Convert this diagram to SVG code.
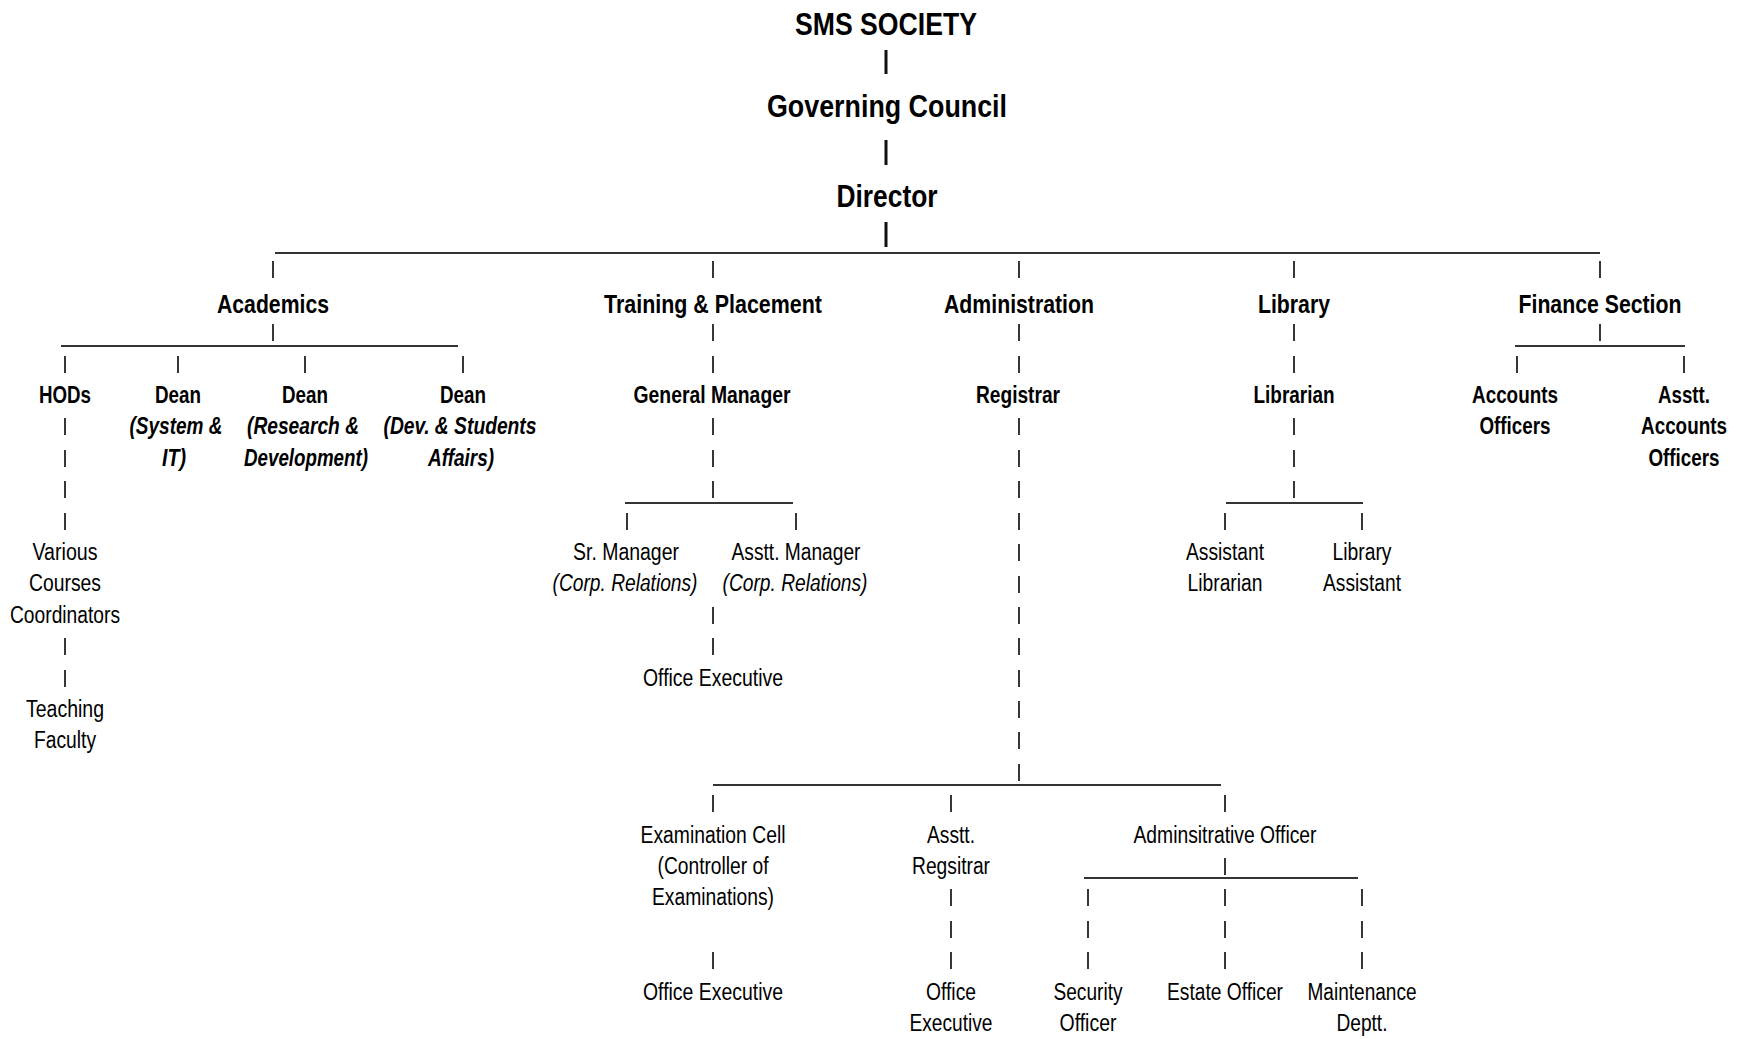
<svg xmlns="http://www.w3.org/2000/svg" width="1741" height="1039" viewBox="0 0 1741 1039">
<style>
text{font-family:"Liberation Sans Narrow","Arial Narrow","Liberation Sans",Arial,sans-serif;fill:#000;text-anchor:middle}
.t{font-size:32px;font-weight:bold}
.d{font-size:26px;font-weight:bold}
.b{font-size:23px;font-weight:bold}
.bi{font-size:23px;font-weight:bold;font-style:italic}
.r{font-size:23.5px}
.ri{font-size:23.5px;font-style:italic}
.p{stroke:#222;stroke-width:1.8;fill:none}
.pb{stroke:#111;stroke-width:3;fill:none}
.h{stroke:#333;stroke-width:1.8;fill:none}
</style>
<rect width="1741" height="1039" fill="#fff"/>
<g id="connectors">
<path class="pb" d="M886 50V74M886 140V165M886 222V247"/>
<path class="h" d="M275 253H1600"/>
<path class="p" d="M273 261V278M713 261V278M1019 261V278M1294 261V278M1600 261V278"/>
<path class="p" d="M273 324V341"/>
<path class="h" d="M61 346H458"/>
<path class="p" d="M65 356V373M178 356V373M305 356V373M463 356V373"/>
<path class="p" d="M65 418V435M65 450V467M65 481V498M65 513V530M65 638V655M65 670V687"/>
<path class="p" d="M713 324V341M713 356V373M713 418V435M713 450V467M713 481V498"/>
<path class="h" d="M625 503H793"/>
<path class="p" d="M627 513V530M796 513V530M713 607V624M713 638V655"/>
<path class="p" d="M1019 324V341M1019 356V373M1019 418V435M1019 450V467M1019 481V498M1019 513V530M1019 544V561M1019 576V593M1019 607V624M1019 638V655M1019 670V687M1019 701V718M1019 732V749M1019 764V781"/>
<path class="h" d="M713 785H1221"/>
<path class="p" d="M713 795V812M951 795V812M1225 795V812M713 952V969M951 889V906M951 921V938M951 952V969M1225 858V875"/>
<path class="h" d="M1084 878H1358"/>
<path class="p" d="M1088 889V906M1088 921V938M1088 952V969M1225 889V906M1225 921V938M1225 952V969M1362 889V906M1362 921V938M1362 952V969"/>
<path class="p" d="M1294 324V341M1294 356V373M1294 418V435M1294 450V467M1294 481V498"/>
<path class="h" d="M1226 503H1363"/>
<path class="p" d="M1225 513V530M1362 513V530"/>
<path class="p" d="M1600 324V341"/>
<path class="h" d="M1515 346H1685"/>
<path class="p" d="M1517 356V373M1684 356V373"/>
</g>
<g id="sms-society"><text class="t" x="886" y="35" textLength="182" lengthAdjust="spacingAndGlyphs">SMS SOCIETY</text></g>
<g id="governing-council"><text class="t" x="887" y="117" textLength="240" lengthAdjust="spacingAndGlyphs">Governing Council</text></g>
<g id="director"><text class="t" x="887" y="207" textLength="101" lengthAdjust="spacingAndGlyphs">Director</text></g>
<g id="academics"><text class="d" x="273" y="313" textLength="112" lengthAdjust="spacingAndGlyphs">Academics</text></g>
<g id="training-placement"><text class="d" x="713" y="313" textLength="218" lengthAdjust="spacingAndGlyphs">Training &amp; Placement</text></g>
<g id="administration"><text class="d" x="1019" y="313" textLength="150" lengthAdjust="spacingAndGlyphs">Administration</text></g>
<g id="library"><text class="d" x="1294" y="313" textLength="72" lengthAdjust="spacingAndGlyphs">Library</text></g>
<g id="finance-section"><text class="d" x="1600" y="313" textLength="163" lengthAdjust="spacingAndGlyphs">Finance Section</text></g>
<g id="hods"><text class="b" x="65" y="403" textLength="52" lengthAdjust="spacingAndGlyphs">HODs</text></g>
<g id="dean-system-it"><text class="b" x="178" y="403" textLength="46" lengthAdjust="spacingAndGlyphs">Dean</text><text class="bi" x="176" y="434.4" textLength="93" lengthAdjust="spacingAndGlyphs">(System &amp;</text><text class="bi" x="174" y="465.8" textLength="24" lengthAdjust="spacingAndGlyphs">IT)</text></g>
<g id="dean-research"><text class="b" x="305" y="403" textLength="46" lengthAdjust="spacingAndGlyphs">Dean</text><text class="bi" x="303" y="434.4" textLength="112" lengthAdjust="spacingAndGlyphs">(Research &amp;</text><text class="bi" x="306" y="465.8" textLength="124" lengthAdjust="spacingAndGlyphs">Development)</text></g>
<g id="dean-dev-students"><text class="b" x="463" y="403" textLength="46" lengthAdjust="spacingAndGlyphs">Dean</text><text class="bi" x="460" y="434.4" textLength="153" lengthAdjust="spacingAndGlyphs">(Dev. &amp; Students</text><text class="bi" x="461" y="465.8" textLength="66" lengthAdjust="spacingAndGlyphs">Affairs)</text></g>
<g id="courses-coordinators"><text class="r" x="65" y="560" textLength="65" lengthAdjust="spacingAndGlyphs">Various</text><text class="r" x="65" y="591.4" textLength="72" lengthAdjust="spacingAndGlyphs">Courses</text><text class="r" x="65" y="622.8" textLength="110" lengthAdjust="spacingAndGlyphs">Coordinators</text></g>
<g id="teaching-faculty"><text class="r" x="65" y="717" textLength="78" lengthAdjust="spacingAndGlyphs">Teaching</text><text class="r" x="65" y="748.4" textLength="62" lengthAdjust="spacingAndGlyphs">Faculty</text></g>
<g id="general-manager"><text class="b" x="712" y="403" textLength="157" lengthAdjust="spacingAndGlyphs">General Manager</text></g>
<g id="sr-manager"><text class="r" x="626" y="560" textLength="106" lengthAdjust="spacingAndGlyphs">Sr. Manager</text><text class="ri" x="625" y="591.4" textLength="145" lengthAdjust="spacingAndGlyphs">(Corp. Relations)</text></g>
<g id="asstt-manager"><text class="r" x="796" y="560" textLength="129" lengthAdjust="spacingAndGlyphs">Asstt. Manager</text><text class="ri" x="795" y="591.4" textLength="145" lengthAdjust="spacingAndGlyphs">(Corp. Relations)</text></g>
<g id="tp-office-executive"><text class="r" x="713" y="685.6" textLength="140" lengthAdjust="spacingAndGlyphs">Office Executive</text></g>
<g id="registrar"><text class="b" x="1018" y="403" textLength="84" lengthAdjust="spacingAndGlyphs">Registrar</text></g>
<g id="examination-cell"><text class="r" x="713" y="842.6" textLength="145" lengthAdjust="spacingAndGlyphs">Examination Cell</text><text class="r" x="713" y="874" textLength="111" lengthAdjust="spacingAndGlyphs">(Controller of</text><text class="r" x="713" y="905.4" textLength="122" lengthAdjust="spacingAndGlyphs">Examinations)</text></g>
<g id="exam-office-executive"><text class="r" x="713" y="999.6" textLength="140" lengthAdjust="spacingAndGlyphs">Office Executive</text></g>
<g id="asstt-registrar"><text class="r" x="951" y="842.6" textLength="48" lengthAdjust="spacingAndGlyphs">Asstt.</text><text class="r" x="951" y="874" textLength="78" lengthAdjust="spacingAndGlyphs">Regsitrar</text></g>
<g id="ar-office-executive"><text class="r" x="951" y="999.6" textLength="50" lengthAdjust="spacingAndGlyphs">Office</text><text class="r" x="951" y="1031" textLength="83" lengthAdjust="spacingAndGlyphs">Executive</text></g>
<g id="administrative-officer"><text class="r" x="1225" y="842.6" textLength="183" lengthAdjust="spacingAndGlyphs">Adminsitrative Officer</text></g>
<g id="security-officer"><text class="r" x="1088" y="999.6" textLength="69" lengthAdjust="spacingAndGlyphs">Security</text><text class="r" x="1088" y="1031" textLength="57" lengthAdjust="spacingAndGlyphs">Officer</text></g>
<g id="estate-officer"><text class="r" x="1225" y="999.6" textLength="116" lengthAdjust="spacingAndGlyphs">Estate Officer</text></g>
<g id="maintenance-deptt"><text class="r" x="1362" y="999.6" textLength="109" lengthAdjust="spacingAndGlyphs">Maintenance</text><text class="r" x="1362" y="1031" textLength="51" lengthAdjust="spacingAndGlyphs">Deptt.</text></g>
<g id="librarian"><text class="b" x="1294" y="403" textLength="81" lengthAdjust="spacingAndGlyphs">Librarian</text></g>
<g id="assistant-librarian"><text class="r" x="1225" y="560" textLength="78" lengthAdjust="spacingAndGlyphs">Assistant</text><text class="r" x="1225" y="591.4" textLength="75" lengthAdjust="spacingAndGlyphs">Librarian</text></g>
<g id="library-assistant"><text class="r" x="1362" y="560" textLength="59" lengthAdjust="spacingAndGlyphs">Library</text><text class="r" x="1362" y="591.4" textLength="78" lengthAdjust="spacingAndGlyphs">Assistant</text></g>
<g id="accounts-officers"><text class="b" x="1515" y="403" textLength="86" lengthAdjust="spacingAndGlyphs">Accounts</text><text class="b" x="1515" y="434.4" textLength="71" lengthAdjust="spacingAndGlyphs">Officers</text></g>
<g id="asstt-accounts-officers"><text class="b" x="1684" y="403" textLength="52" lengthAdjust="spacingAndGlyphs">Asstt.</text><text class="b" x="1684" y="434.4" textLength="86" lengthAdjust="spacingAndGlyphs">Accounts</text><text class="b" x="1684" y="465.8" textLength="71" lengthAdjust="spacingAndGlyphs">Officers</text></g>
</svg>
